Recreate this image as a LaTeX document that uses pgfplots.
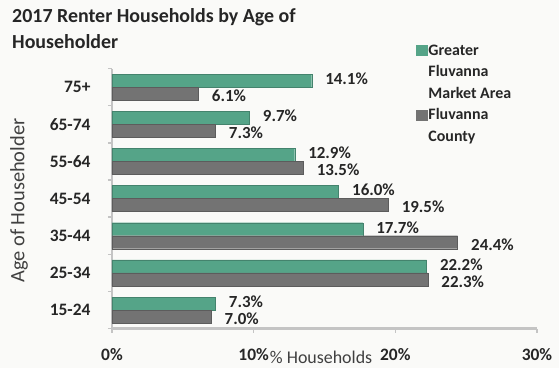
\documentclass[border=0pt]{standalone}
\usepackage{pgfplots}
\pgfplotsset{compat=1.18}
\usepackage{fontspec}
\setmainfont{Carlito}
\definecolor{gbar}{HTML}{55A488}
\definecolor{kbar}{HTML}{737373}
\definecolor{axg}{HTML}{C4C4C4}
\definecolor{bg}{HTML}{FAFAF8}
\begin{document}
\begin{tikzpicture}
\fill[bg] (-112bp,-39.4bp) rectangle (447bp,328.6bp);
\begin{axis}[
  at={(0,0)}, anchor=south west,
  scale only axis, width=425bp, height=260bp,
  xmin=0, xmax=30, ymin=-0.5, ymax=6.5,
  xbar, bar width=13bp,
  axis lines*=left,
  axis line style={axg, line width=2.5bp},
  /pgf/number format/assume math mode=true,
  xtick={0,10,20,30}, xticklabels={0\%,10\%,20\%,30\%},
  ytick={0,...,6}, yticklabels={15-24,25-34,35-44,45-54,55-64,65-74,75+},
  tick align=outside,
  major tick length=4bp,
  xtick style={axg, line width=1.5bp},
  ytick style={draw=none},
  extra y ticks={-0.5,0.5,1.5,2.5,3.5,4.5,5.5,6.5},
  extra y tick labels={},
  extra y tick style={ytick style={draw=axg, line width=1.5bp}},
  tick label style={font=\fontsize{17.5}{20}\selectfont\bfseries, text=black!85},
  yticklabel style={xshift=-14bp},
  xticklabel style={yshift=-12bp},
  xlabel={\% Households},
  xlabel style={at={(axis description cs:0.492,0)}, anchor=center, yshift=-29bp, font=\fontsize{18}{20}\selectfont, text=black!75},
  ylabel={Age of Householder},
  ylabel style={at={(axis description cs:-0.219,0.492)}, anchor=center, font=\fontsize{20.5}{22}\selectfont, text=black!75},
  title={2017 Renter Households by Age of\\Householder},
  title style={at={(axis description cs:0,1)}, anchor=north west, xshift=-100bp, yshift=54bp, inner sep=0pt, align=left, font=\fontsize{20}{26}\selectfont\bfseries, text=black!85},
  legend style={at={(axis description cs:0.708,1.11)}, anchor=north west, draw=none, fill=none,
    font=\fontsize{16}{19}\selectfont\bfseries, text=black!85, row sep=4.5bp,
    nodes={inner sep=1bp, text height=12bp, text depth=3bp}},
  legend cell align=left,
  every node near coord/.append style={font=\fontsize{17}{20}\selectfont\bfseries, text=black!85, xshift=10bp},
  nodes near coords={\pgfmathprintnumber[fixed,fixed zerofill,precision=1]{\pgfplotspointmeta}\%},
]
\addplot[fill=gbar, draw=gbar!80!black, bar shift=6.5bp, forget plot,
  every node near coord/.append style={yshift=2bp}]
  coordinates {(7.3,0) (22.2,1) (17.7,2) (16.0,3) (12.9,4) (9.7,5) (14.1,6)};
\addplot[fill=kbar, draw=kbar!80!black, bar shift=-6.5bp, forget plot,
  every node near coord/.append style={yshift=-2bp}]
  coordinates {(7.0,0) (22.3,1) (24.4,2) (19.5,3) (13.5,4) (7.3,5) (6.1,6)};
\addlegendimage{legend image code/.code={\fill[gbar] (0bp,-5bp) rectangle (11bp,5bp);}}
\addlegendentry{Greater}
\addlegendimage{empty legend}
\addlegendentry{Fluvanna}
\addlegendimage{empty legend}
\addlegendentry{Market Area}
\addlegendimage{legend image code/.code={\fill[kbar] (0bp,-5bp) rectangle (11bp,5bp);}}
\addlegendentry{Fluvanna}
\addlegendimage{empty legend}
\addlegendentry{County}
\end{axis}
\pgfresetboundingbox
\path[use as bounding box] (-112bp,-39.4bp) rectangle (447bp,328.6bp);
\end{tikzpicture}
\end{document}
